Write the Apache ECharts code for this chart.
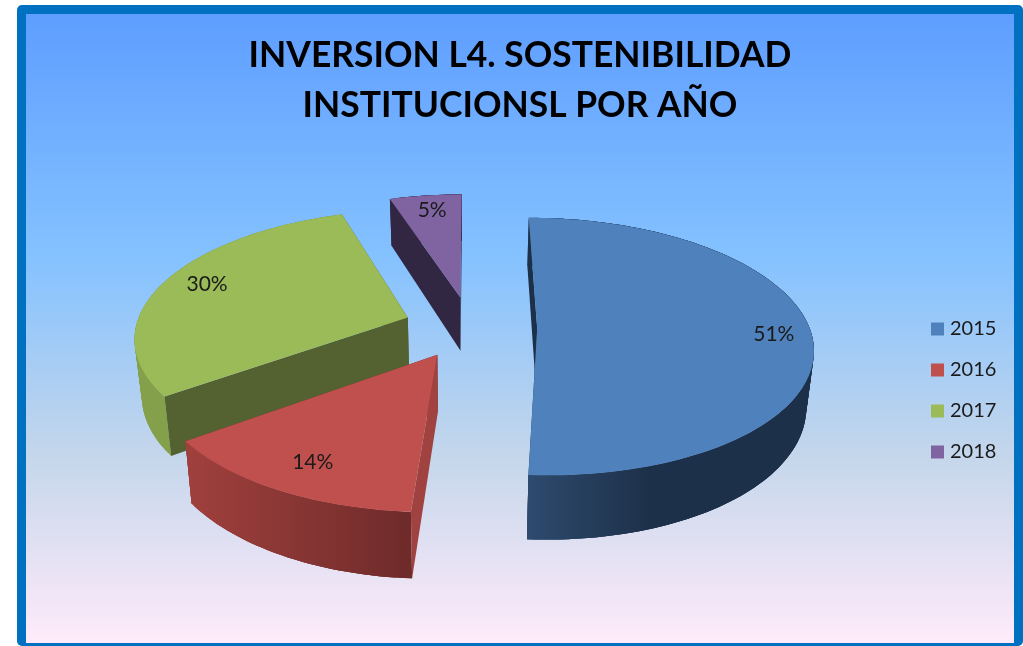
<!DOCTYPE html>
<html>
<head>
<meta charset="utf-8">
<style>html,body{margin:0;padding:0;background:#fff}#c{width:1023px;height:646px}</style>
<script src="https://cdn.jsdelivr.net/npm/echarts@6/dist/echarts.min.js"></script>
</head>
<body>
<div id="c"></div>
<script>
const titleLines = ['INVERSION L4. SOSTENIBILIDAD', 'INSTITUCIONSL POR AÑO'];
const years = ['2015', '2016', '2017', '2018'];
const shares = [51, 14, 30, 5];

const sliceColors = ['#4f81bd', '#c0504d', '#9bbb59', '#8064a2'];
const startWallColors = ['#1d3049', '#a04340', '#536230', '#322743'];
const endWallColors = ['#1d3049', '#6e2b2a', '#536230', '#322743'];
const bandColors = [['#2e4a6e', '#1d3049'], ['#a0403d', '#6e2b2a'], ['#84a04a', '#84a04a'], ['#322743', '#322743']];
const bandSpan = [[528, 650], [188, 410], [135, 170], [389, 462]];
const labelRadius = [0.865, 0.8, 0.83, 0.85];
const labelNudge = [[0, 3], [0, 3], [2, -3], [2, 1]];
const seriesDepth = [2, 3, 2, 1];

const view = { cx: 470.5, cy: 327, a: 272, b: 125.8, k: 0.144, explode: 0.245, height: 55, baseCx: 465, baseShrink: 0.022 };

const total = shares.reduce((s, v) => s + v, 0);
function sliceRange(i) {
  let before = 0;
  for (let n = 0; n < i; n++) before += shares[n];
  return [before / total * 360, (before + shares[i]) / total * 360];
}
function project(X, Y, low) {
  const w = 1 + view.k * Y;
  let sx = view.cx + view.a * X / w;
  let sy = view.cy - view.b * Y / w;
  if (low) {
    sx = sx + (view.baseCx - sx) * view.baseShrink;
    sy = sy + view.height / w;
  }
  return [sx, sy];
}
function renderSlice(params, api) {
  const i = params.seriesIndex;
  const range = sliceRange(i);
  const rad = d => d * Math.PI / 180;
  const mid = rad((range[0] + range[1]) / 2);
  const ox = view.explode * Math.sin(mid), oy = view.explode * Math.cos(mid);
  const at = (deg, r, low) => project(ox + r * Math.sin(rad(deg)), oy + r * Math.cos(rad(deg)), low);
  const apexTop = project(ox, oy, false), apexLow = project(ox, oy, true);
  const arcTop = [], arcLow = [];
  const steps = Math.max(8, Math.ceil((range[1] - range[0]) / 1.5));
  for (let s = 0; s <= steps; s++) {
    const d = range[0] + (range[1] - range[0]) * s / steps;
    arcTop.push(at(d, 1, false));
    arcLow.push(at(d, 1, true));
  }
  const poly = (points, fill) => ({
    type: 'polygon', shape: { points: points }, silent: true,
    style: { fill: fill, stroke: null, lineWidth: 0 }
  });
  const g = bandColors[i];
  const band = new echarts.graphic.LinearGradient(bandSpan[i][0], 0, bandSpan[i][1], 0, [
    { offset: 0, color: g[0] }, { offset: 1, color: g[1] }
  ], true);
  const quads = [];
  for (let s = 0; s < steps; s++) {
    const e = Math.min(s + 3, steps);
    quads.push(poly(arcTop.slice(s, e + 1).concat(arcLow.slice(s, e + 1).reverse()), band));
  }
  const labelPos = at((range[0] + range[1]) / 2, labelRadius[i], false);
  return {
    type: 'group',
    children: [poly([apexTop, arcTop[steps], arcLow[steps], apexLow], endWallColors[i])].concat(quads, [
      poly([apexTop, arcTop[0], arcLow[0], apexLow], startWallColors[i]),
      poly([apexTop].concat(arcTop), api.visual('color')),
      {
        type: 'text', silent: true,
        style: {
          x: labelPos[0] + labelNudge[i][0], y: labelPos[1] + labelNudge[i][1], text: api.value(0) + '%',
          fill: '#1a1a1a', font: '21px Lato', align: 'center', verticalAlign: 'middle'
        }
      }
    ])
  };
}
const chart = echarts.init(document.getElementById('c'), null, { renderer: 'canvas' });
chart.setOption({
  animation: false,
  color: sliceColors,
  graphic: [
    { type: 'rect', z: -10, silent: true, shape: { x: 17, y: 5, width: 1006, height: 641, r: 5 }, style: { fill: '#0070c0' } },
    { type: 'rect', z: -9, silent: true, shape: { x: 26, y: 14, width: 988, height: 629 },
      style: { fill: new echarts.graphic.LinearGradient(0, 0, 0, 1, [
        { offset: 0, color: '#5e9eff' }, { offset: 0.39, color: '#85c2ff' },
        { offset: 0.7, color: '#c4d6eb' }, { offset: 1, color: '#ffebfa' }
      ]) } }
  ],
  title: {
    text: titleLines.join('\n'), left: 515, top: 26, textAlign: 'center',
    textStyle: { fontFamily: 'Lato', fontWeight: 'bold', fontSize: 35.4, lineHeight: 50, color: '#000' }
  },
  legend: {
    orient: 'vertical', left: 931, top: 318, padding: 0, itemWidth: 13, itemHeight: 13, itemGap: 19,
    icon: 'rect', data: years,
    textStyle: { fontFamily: 'Lato', fontSize: 20, color: '#1a1a1a', lineHeight: 22, padding: [0, 0, 0, 1] }
  },
  series: years.map((y, i) => ({
    type: 'custom', name: y, coordinateSystem: 'none', z: seriesDepth[i],
    renderItem: renderSlice, data: [[shares[i]]]
  }))
});
</script>
</body>
</html>
